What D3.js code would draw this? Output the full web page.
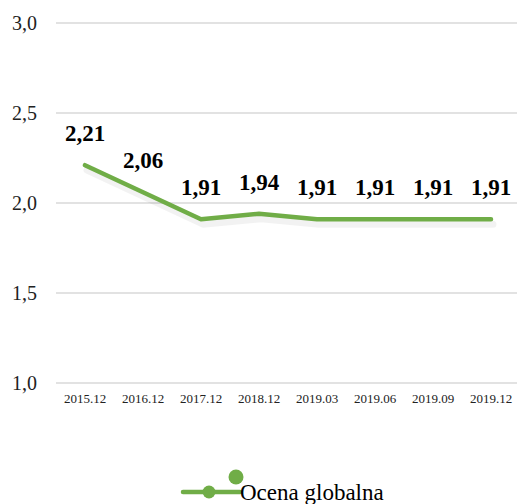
<!DOCTYPE html>
<html>
<head>
<meta charset="utf-8">
<script src="https://cdn.jsdelivr.net/npm/d3@7"></script>
</head>
<body style="margin:0">
<svg id="chart" width="517" height="504"></svg>
<script>
const periods = ['2015.12', '2016.12', '2017.12', '2018.12', '2019.03', '2019.06', '2019.09', '2019.12']
const scores = [2.21, 2.06, 1.91, 1.94, 1.91, 1.91, 1.91, 1.91]
const yTicks = [1.0, 1.5, 2.0, 2.5, 3.0]
const seriesName = 'Ocena globalna'

const green = '#70ad47'
const serif = 'Liberation Serif'
const fmt = (v) => d3.format('.2f')(v).replace('.', ',')
const fmtTick = (v) => d3.format('.1f')(v).replace('.', ',')

const svg = d3.select('#chart')

const x = d3.scalePoint().domain(periods).range([85, 491])
const y = d3.scaleLinear().domain([1, 3]).range([383, 23])

// gridlines
svg.append('g')
  .selectAll('line')
  .data(yTicks)
  .enter()
  .append('line')
  .attr('x1', 56)
  .attr('x2', 517)
  .attr('y1', (d) => y(d))
  .attr('y2', (d) => y(d))
  .attr('stroke', '#d9d9d9')
  .attr('stroke-width', 1.3)

// y labels
svg.append('g')
  .selectAll('text')
  .data(yTicks)
  .enter()
  .append('text')
  .attr('x', 37)
  .attr('y', (d) => y(d) + 7)
  .attr('text-anchor', 'end')
  .attr('font-family', serif)
  .attr('font-size', 20)
  .attr('fill', '#222')
  .text(fmtTick)

// x labels
svg.append('g')
  .selectAll('text')
  .data(periods)
  .enter()
  .append('text')
  .attr('x', (d) => x(d))
  .attr('y', y(1) + 20)
  .attr('text-anchor', 'middle')
  .attr('font-family', serif)
  .attr('font-size', 13)
  .attr('fill', '#222')
  .text((d) => d)

// line, with a faint offset copy as shadow
const line = d3.line()
  .x((d, i) => x(periods[i]))
  .y((d) => y(d))

svg.append('path')
  .datum(scores)
  .attr('d', line)
  .attr('transform', 'translate(2,5)')
  .attr('fill', 'none')
  .attr('stroke', '#000')
  .attr('stroke-opacity', 0.05)
  .attr('stroke-width', 7)
  .attr('stroke-linejoin', 'round')
  .attr('stroke-linecap', 'round')

svg.append('path')
  .datum(scores)
  .attr('d', line)
  .attr('fill', 'none')
  .attr('stroke', green)
  .attr('stroke-width', 4.5)
  .attr('stroke-linejoin', 'round')
  .attr('stroke-linecap', 'round')

// value labels
svg.append('g')
  .selectAll('text')
  .data(scores)
  .enter()
  .append('text')
  .attr('x', (d, i) => x(periods[i]))
  .attr('y', (d) => y(d) - 24)
  .attr('text-anchor', 'middle')
  .attr('font-family', serif)
  .attr('font-size', 23)
  .attr('font-weight', 'bold')
  .attr('fill', '#000')
  .text(fmt)

// legend
const legend = svg.append('g')
legend.append('line')
  .attr('x1', 183).attr('x2', 240)
  .attr('y1', 492).attr('y2', 492)
  .attr('stroke', green).attr('stroke-width', 4.5)
  .attr('stroke-linecap', 'round')
legend.append('circle')
  .attr('cx', 209).attr('cy', 492).attr('r', 6.5)
  .attr('fill', green)
legend.append('circle')
  .attr('cx', 236).attr('cy', 477).attr('r', 7.5)
  .attr('fill', green)
legend.append('text')
  .attr('x', 240)
  .attr('y', 500)
  .attr('font-family', serif)
  .attr('font-size', 23)
  .attr('fill', '#000')
  .text(seriesName)
</script>
</body>
</html>
